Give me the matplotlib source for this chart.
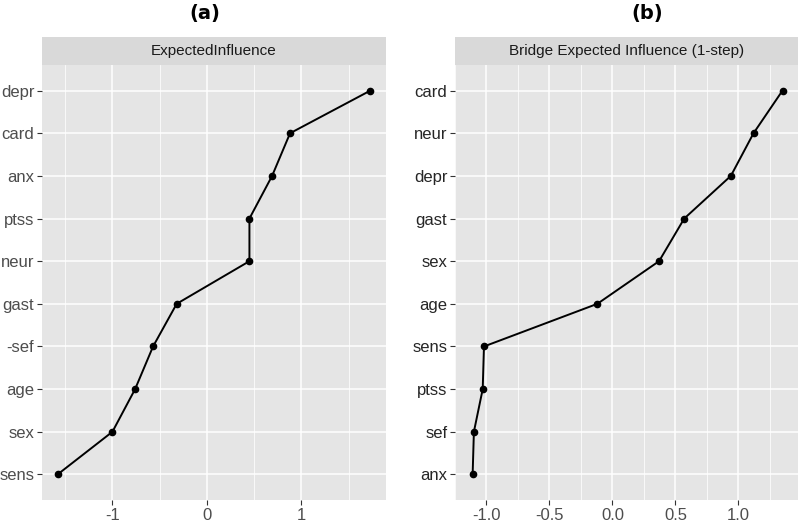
import matplotlib
matplotlib.use("Agg")
import matplotlib.pyplot as plt
from matplotlib.patches import Rectangle

# Panel (a): Expected Influence
labels_a = ["sens", "sex", "age", "-sef", "gast", "neur", "ptss", "anx", "card", "depr"]
values_a = [-1.58, -1.00, -0.76, -0.57, -0.32, 0.45, 0.45, 0.69, 0.88, 1.73]
ticks_a = [-1, 0, 1]
ticklabels_a = ["-1", "0", "1"]

# Panel (b): Bridge Expected Influence (1-step)
labels_b = ["anx", "sef", "ptss", "sens", "age", "sex", "gast", "depr", "neur", "card"]
values_b = [-1.11, -1.10, -1.03, -1.02, -0.12, 0.37, 0.57, 0.94, 1.12, 1.35]
ticks_b = [-1.0, -0.5, 0.0, 0.5, 1.0]
ticklabels_b = ["-1.0", "-0.5", "0.0", "0.5", "1.0"]

plt.rcParams['font.family'] = ['Liberation Sans', 'DejaVu Sans']

fig = plt.figure(figsize=(8, 5.25), dpi=100)

def panel(rect, labels, values, ticks, ticklabels, strip, title, title_x, ycol):
    ax = fig.add_axes(rect)
    ax.set_facecolor("#E5E5E5")
    y = list(range(len(labels)))
    ax.plot(values, y, color="black", lw=1.4, marker="o", ms=4.5, zorder=3)
    lo, hi = min(values), max(values)
    span = hi - lo
    ax.set_xlim(lo - 0.05 * span, hi + 0.05 * span)
    ax.set_ylim(-0.6, len(labels) - 1 + 0.6)
    ax.set_yticks(y)
    ax.set_yticklabels(labels)
    ax.set_xticks(ticks)
    ax.set_xticklabels(ticklabels)
    minor = [(ticks[i] + ticks[i + 1]) / 2 for i in range(len(ticks) - 1)]
    step = ticks[1] - ticks[0]
    minor = [ticks[0] - step / 2] + minor + [ticks[-1] + step / 2]
    ax.set_xticks(minor, minor=True)
    ax.tick_params(axis="x", which="minor", length=0)
    ax.grid(True, which="major", color="white", lw=1.1)
    ax.grid(True, which="minor", axis="x", color="white", lw=0.55)
    ax.set_axisbelow(True)
    for s in ax.spines.values():
        s.set_visible(False)
    ax.tick_params(axis="both", which="major", length=3.5, width=0.8,
                   color="#333333", labelsize=12, pad=2)
    for t in ax.get_xticklabels():
        t.set_color("#4D4D4D")
    for t in ax.get_yticklabels():
        t.set_color(ycol)
    # strip
    x0, y0, w, h = rect
    sh = 28 / 525
    fig.patches.append(Rectangle((x0, y0 + h), w, sh, transform=fig.transFigure,
                                 facecolor="#D9D9D9", edgecolor="none"))
    fig.text(x0 + w / 2, y0 + h + sh / 2, strip, ha="center", va="center",
             fontsize=11, color="#1A1A1A")
    fig.text(title_x, 1 - 14 / 525, title, ha="center", va="center",
             fontsize=14, fontweight="bold", family=["DejaVu Sans"])
    return ax

panel([42 / 800, 25 / 525, 344 / 800, 435 / 525], labels_a, values_a, ticks_a,
      ticklabels_a, "ExpectedInfluence", "(a)", 205 / 800, "#4D4D4D")
panel([455 / 800, 25 / 525, 343 / 800, 435 / 525], labels_b, values_b, ticks_b,
      ticklabels_b, "Bridge Expected Influence (1-step)", "(b)", 647 / 800, "#262626")

fig.savefig("out.png", dpi=100)
